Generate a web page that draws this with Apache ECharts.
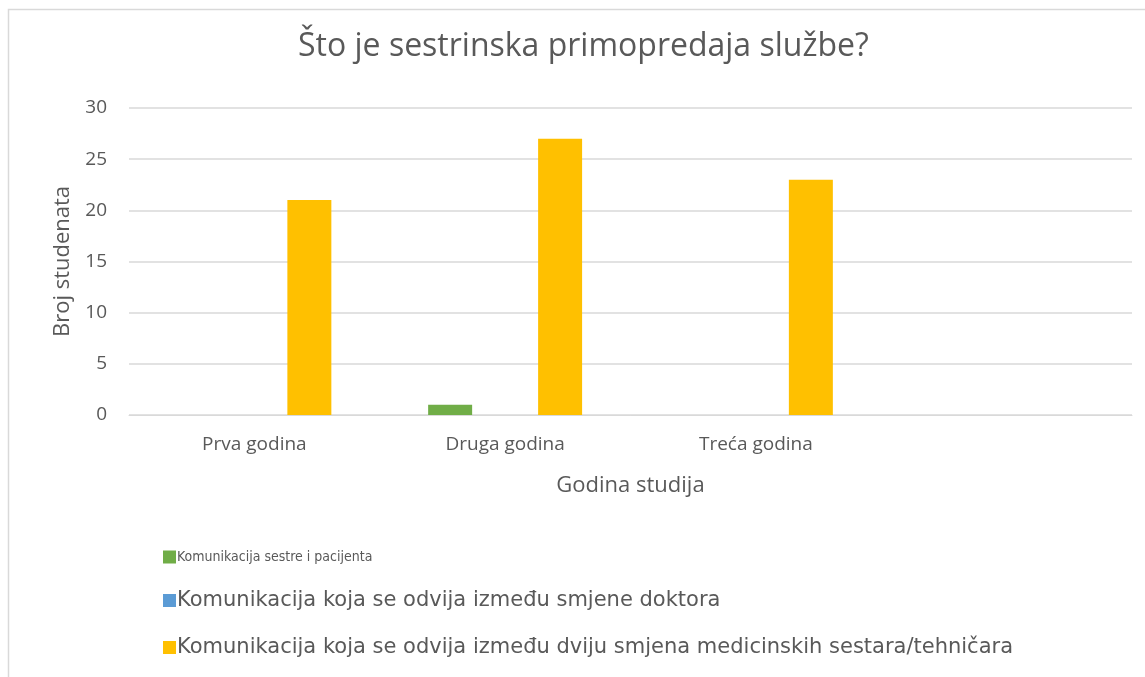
<!DOCTYPE html>
<html>
<head>
<meta charset="utf-8">
<title>Što je sestrinska primopredaja službe?</title>
<script src="https://cdn.jsdelivr.net/npm/echarts@6/dist/echarts.min.js"></script>
<style>
  html, body { margin: 0; padding: 0; background: #fff; }
  #chart { width: 1145px; height: 677px; }
</style>
</head>
<body>
<div id="chart"></div>
<script>
// podaci
var godine = ['Prva godina', 'Druga godina', 'Treća godina', ''];
var nazivi = [
  'Komunikacija sestre i pacijenta',
  'Komunikacija koja se odvija između smjene doktora',
  'Komunikacija koja se odvija između dviju smjena medicinskih sestara/tehničara'
];
var sestraPacijent = [0, 1, 0, null];
var smjenaDoktora = [0, 0, 0, null];
var smjenaSestara = [21, 27, 23, null];
var boje = ['#70AD47', '#5B9BD5', '#FFC000'];

var chart = echarts.init(document.getElementById('chart'));

var textColor = '#595959';
var font = 'Open Sans';

var option = {
  animation: false,
  color: boje,
  title: {
    text: 'Što je sestrinska primopredaja službe?',
    left: 293,
    top: 26,
    textStyle: { fontFamily: font, fontSize: 32, fontWeight: 'normal', color: textColor }
  },
  // okvir grafikona
  graphic: [{
    type: 'rect',
    shape: { x: 8.5, y: 9.5, width: 1200, height: 700 },
    style: { fill: 'none', stroke: '#D9D9D9', lineWidth: 1.5 }
  }],
  legend: {
    orient: 'vertical',
    left: 158,
    top: 545,
    itemWidth: 13,
    itemHeight: 13,
    itemGap: 26,
    icon: 'rect',
    textStyle: { fontFamily: 'DejaVu Sans', fontSize: 21, color: textColor, padding: [0, 0, 0, -4] },
    data: [
      { name: nazivi[0], textStyle: { fontFamily: 'DejaVu Sans Condensed', fontSize: 14 } },
      { name: nazivi[1] },
      { name: nazivi[2] }
    ]
  },
  grid: { left: 129, right: 13, top: 108, bottom: 262, containLabel: false },
  xAxis: {
    type: 'category',
    data: godine,
    name: 'Godina studija',
    nameLocation: 'middle',
    nameGap: 60,
    nameTextStyle: { fontFamily: font, fontSize: 22, color: textColor },
    axisLine: { lineStyle: { color: '#D9D9D9' } },
    axisTick: { show: false },
    axisLabel: { fontFamily: font, fontSize: 19, color: textColor, margin: 20 }
  },
  yAxis: {
    type: 'value',
    min: 0,
    max: 30,
    interval: 5,
    name: 'Broj studenata',
    nameLocation: 'middle',
    nameGap: 55,
    nameTextStyle: { fontFamily: font, fontSize: 22, color: textColor },
    axisLine: { show: false },
    axisTick: { show: false },
    axisLabel: { fontFamily: font, fontSize: 19, color: textColor, margin: 22 },
    splitLine: { lineStyle: { color: '#D9D9D9', width: 1.5 } }
  },
  series: [
    { name: nazivi[0], type: 'bar', data: sestraPacijent, barGap: '25%', barCategoryGap: '38.6%' },
    { name: nazivi[1], type: 'bar', data: smjenaDoktora },
    { name: nazivi[2], type: 'bar', data: smjenaSestara }
  ]
};

chart.setOption(option);

window.onresize = function () {
  chart.resize();
};
</script>
</body>
</html>
